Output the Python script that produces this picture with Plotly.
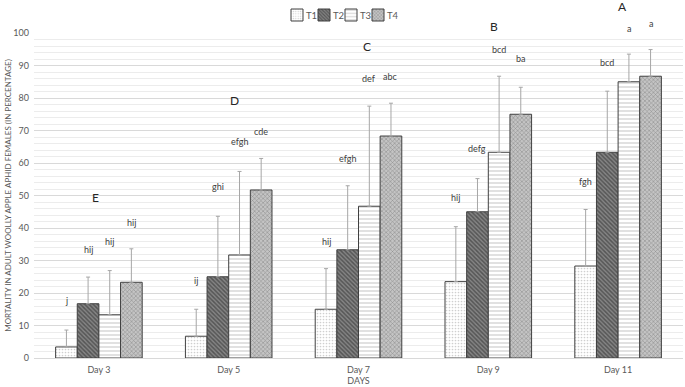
import plotly.graph_objects as go

# ---------------- data ----------------
days = ["Day 3", "Day 5", "Day 7", "Day 9", "Day 11"]
treatments = ["T1", "T2", "T3", "T4"]

t1 = [3.4, 6.7, 15.0, 23.5, 28.3]
t2 = [16.7, 25.0, 33.3, 45.0, 63.3]
t3 = [13.3, 31.7, 46.7, 63.3, 85.0]
t4 = [23.3, 51.7, 68.3, 75.0, 86.7]

t1_err = [5.2, 8.3, 12.5, 16.9, 17.4]
t2_err = [8.2, 18.6, 19.7, 10.2, 18.8]
t3_err = [13.6, 25.7, 30.8, 23.4, 8.5]
t4_err = [10.3, 9.7, 10.1, 8.3, 8.2]

letters_t1 = ["j", "ij", "hij", "hij", "fgh"]
letters_t2 = ["hij", "ghi", "efgh", "defg", "bcd"]
letters_t3 = ["hij", "efgh", "def", "bcd", "a"]
letters_t4 = ["hij", "cde", "abc", "ba", "a"]

letter_y_t1 = [17.6, 23.8, 35.8, 49.4, 54.3]
letter_y_t2 = [33.3, 52.8, 61.4, 64.5, 91.0]
letter_y_t3 = [35.8, 66.7, 86.1, 95.0, 101.5]
letter_y_t4 = [41.7, 69.8, 86.7, 92.0, 102.8]

group_letters = ["E", "D", "C", "B", "A"]
group_letter_y = [49.4, 79.3, 96.0, 101.9, 108.0]

y_title = "MORTALITY IN ADULT WOOLLY APPLE APHID FEMALES (IN PERCENTAGE)"
x_title = "DAYS"

# ---------------- styling ----------------
W, H = 685, 387
ML, MR, MT, MB = 34, 2, 33, 29
Y_MAX = 100
BARGAP = 0.333
FONT = "Lato"
TXT = "#595959"

patterns = [
    dict(shape=".", fgcolor="#a0a0a0", bgcolor="#ffffff", size=3, solidity=0.25),
    dict(shape="\\", fgcolor="#262626", bgcolor="#858585", size=3, solidity=0.5),
    dict(shape="-", fgcolor="#6a6a6a", bgcolor="#ffffff", size=4, solidity=0.2),
    dict(shape="x", fgcolor="#5a5a5a", bgcolor="#c4c4c4", size=3, solidity=0.35),
]

values = [t1, t2, t3, t4]
errors = [t1_err, t2_err, t3_err, t4_err]
letters = [letters_t1, letters_t2, letters_t3, letters_t4]
letter_ys = [letter_y_t1, letter_y_t2, letter_y_t3, letter_y_t4]

legend_ids = ["legend", "legend2", "legend3", "legend4"]

fig = go.Figure()
for i, name in enumerate(treatments):
    fig.add_trace(go.Bar(
        x=days, y=values[i], name=" ",
        legend=legend_ids[i],
        marker=dict(color="#ffffff", pattern=patterns[i],
                    line=dict(color="#404040", width=1)),
        error_y=dict(type="data", symmetric=False, array=errors[i],
                     arrayminus=[0] * len(days), color="#a6a6a6",
                     thickness=1, width=2),
        hovertemplate=name + " %{x}: %{y}<extra></extra>",
    ))

plot_w = W - ML - MR
plot_h = H - MT - MB
band = plot_w / len(days)
bar_w = band * (1 - BARGAP) / len(treatments)

annotations = []
for i in range(len(treatments)):
    shift = (i - (len(treatments) - 1) / 2) * bar_w
    for j, d in enumerate(days):
        annotations.append(dict(
            x=d, y=letter_ys[i][j] / Y_MAX, xref="x", yref="paper", xshift=shift,
            text=letters[i][j], showarrow=False, yanchor="middle",
            font=dict(family=FONT, size=9, color="#404040")))

cap_shift = [-3, 6, 8, 6, 4]
for j, d in enumerate(days):
    annotations.append(dict(
        x=d, y=group_letter_y[j] / Y_MAX, xref="x", yref="paper", xshift=cap_shift[j],
        text=group_letters[j], showarrow=False, yanchor="middle",
        font=dict(family=FONT, size=12, color="#262626")))

# custom legend: symbols from per-trace legends, labels as annotations
sym_px = [297, 324, 351, 378]
legend_y_px = 15
layout_legends = {}
for i, lid in enumerate(legend_ids):
    layout_legends[lid] = dict(
        x=(sym_px[i] - 20 - ML) / plot_w, xanchor="left",
        y=(H - MB - legend_y_px) / plot_h, yanchor="middle",
        orientation="h", bgcolor="rgba(0,0,0,0)",
        font=dict(family=FONT, size=10, color=TXT),
        itemwidth=30, itemclick=False, itemdoubleclick=False)
    annotations.append(dict(
        x=(sym_px[i] + 7 - ML) / plot_w, xref="paper",
        y=(H - MB - legend_y_px) / plot_h, yref="paper",
        xanchor="left", yanchor="middle", showarrow=False,
        text=treatments[i], font=dict(family=FONT, size=9.5, color=TXT)))

fig.update_layout(
    width=W, height=H,
    margin=dict(l=ML, r=MR, t=MT, b=MB, autoexpand=False),
    paper_bgcolor="#ffffff", plot_bgcolor="#ffffff",
    barmode="group", bargap=BARGAP, bargroupgap=0,
    font=dict(family=FONT, size=9, color=TXT),
    annotations=annotations,
    showlegend=True,
    **layout_legends,
)

fig.update_xaxes(
    type="category", showgrid=False, showline=True, linecolor="#d9d9d9",
    linewidth=1, ticks="", ticklabelstandoff=3,
    tickfont=dict(family=FONT, size=9, color=TXT),
    title=dict(text=x_title, font=dict(family=FONT, size=9, color=TXT), standoff=3),
    automargin=False,
)
fig.update_yaxes(
    range=[0, Y_MAX], dtick=10, showgrid=True, gridcolor="#d9d9d9", gridwidth=1,
    minor=dict(dtick=2, showgrid=True, gridcolor="#ececec", gridwidth=1),
    zeroline=False, showline=False, ticks="", ticklabelstandoff=4,
    tickfont=dict(family=FONT, size=9, color=TXT),
    title=dict(text=y_title, font=dict(family=FONT, size=8, color=TXT), standoff=0),
    automargin=False,
)

fig.write_html("out.html", config={"displayModeBar": False},
               post_script="document.body.style.margin='0';")
